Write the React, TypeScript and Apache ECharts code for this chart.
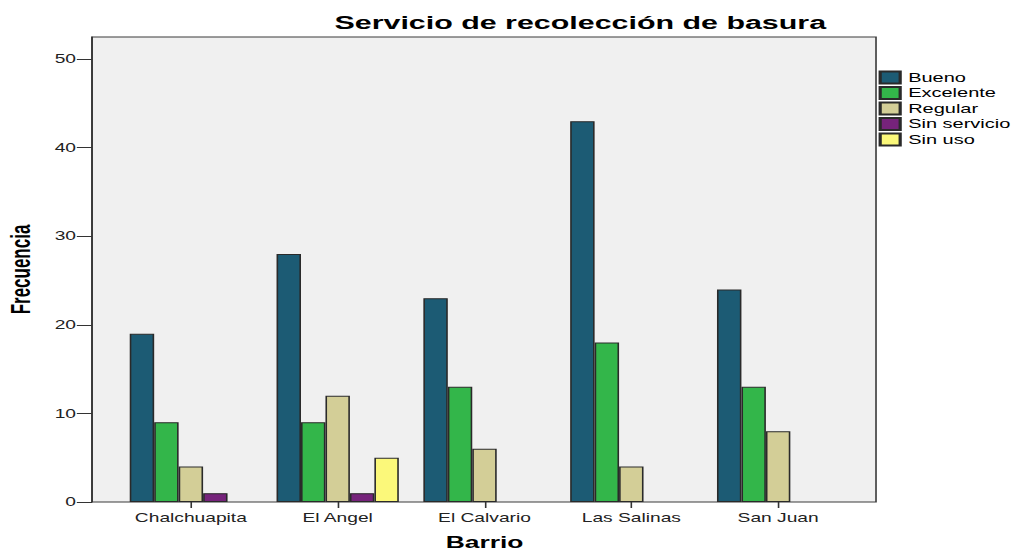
import React, { useEffect, useRef } from "react";
import * as echarts from "echarts";

const categories = ["Chalchuapita", "El Angel", "El Calvario", "Las Salinas", "San Juan"];
const seriesNames = ["Bueno", "Excelente", "Regular", "Sin servicio", "Sin uso"];
const bueno = [19, 28, 23, 43, 24];
const excelente = [9, 9, 13, 18, 13];
const regular = [4, 12, 6, 4, 8];
const sinServicio = [1, 1, 0, 0, 0];
const sinUso = [0, 5, 0, 0, 0];
const yTicks = [0, 10, 20, 30, 40, 50];
const colors = ["#1c5b74", "#33b64a", "#d3ce97", "#76237b", "#fbf87a"];

const W = 633;
const H = 551;
const S = 1013 / W;

export default function App() {
  const ref = useRef<HTMLDivElement>(null);
  useEffect(() => {
    if (!ref.current) return;
    const chart = echarts.init(ref.current, undefined, { renderer: "svg" });
    const all = [bueno, excelente, regular, sinServicio, sinUso];
    const font = "'Liberation Sans', Arial, sans-serif";
    chart.setOption({
      animation: false,
      textStyle: { fontFamily: font },
      title: {
        text: "Servicio de recolección de basura",
        left: 209,
        top: 13,
        padding: 0,
        textStyle: { fontSize: 19, fontWeight: "bold", color: "#000", fontFamily: font },
      },
      legend: {
        orient: "vertical",
        left: 549,
        top: 70,
        padding: 0,
        itemWidth: 12.5,
        itemHeight: 12,
        itemGap: 0.5,
        icon: "rect",
        data: seriesNames,
        textStyle: { fontSize: 12.5, color: "#000", lineHeight: 15, fontFamily: font },
      },
      grid: [
        {
          left: 57.5,
          right: 85.6,
          top: 37,
          bottom: 49,
          show: true,
          backgroundColor: "#f0f0f0",
          borderColor: "#3a3a3a",
          borderWidth: 1,
          outerBoundsMode: "none",
        },
        { left: 73.4, right: 100.9, top: 37, bottom: 49, outerBoundsMode: "none" },
      ],
      xAxis: [
        { type: "value", gridIndex: 0, min: 0, max: 1, show: false },
        {
          type: "category",
          gridIndex: 1,
          data: categories,
          axisLine: { show: false },
          axisTick: { show: true, alignWithLabel: true, length: 6, lineStyle: { color: "#333" } },
          axisLabel: { fontSize: 12, color: "#222", margin: 10, fontFamily: font },
          name: "Barrio",
          nameLocation: "middle",
          nameGap: 32,
          nameTextStyle: {
            fontSize: 16.5,
            fontWeight: "bold",
            color: "#000",
            fontFamily: font,
          },
        },
      ],
      yAxis: [
        {
          type: "value",
          gridIndex: 0,
          min: 0,
          max: 52.5,
          interval: 10,
          axisLine: { show: true, lineStyle: { color: "#333", width: 1 } },
          axisTick: { show: true, length: 9.5, lineStyle: { color: "#333" } },
          axisLabel: {
            fontSize: 12,
            color: "#222",
            margin: 10,
            showMaxLabel: false,
            fontFamily: font,
            formatter: (v: number) => (yTicks.includes(v) ? String(v) : ""),
          },
          splitLine: { show: false },
          name: "Frecuencia",
          nameLocation: "middle",
          nameGap: 36,
          nameTextStyle: { fontSize: 17, fontWeight: "bold", color: "#000", fontFamily: font },
        },
        { type: "value", gridIndex: 1, min: 0, max: 52.5, show: false },
      ],
      series: seriesNames.map((name, i) => ({
        name,
        type: "bar",
        xAxisIndex: 1,
        yAxisIndex: 1,
        barGap: "0%",
        barCategoryGap: "16.7%",
        data: all[i].map((v) => (v === 0 ? null : v)),
        itemStyle: { color: colors[i], borderColor: "#2a2a2a", borderWidth: 1 },
      })),
    });
    return () => chart.dispose();
  }, []);
  return (
    <div
      style={{
        position: "absolute",
        left: 0,
        top: 0,
        width: W,
        height: H,
        transform: `scaleX(${S})`,
        transformOrigin: "0 0",
      }}
    >
      <div ref={ref} style={{ width: W, height: H }} />
    </div>
  );
}
